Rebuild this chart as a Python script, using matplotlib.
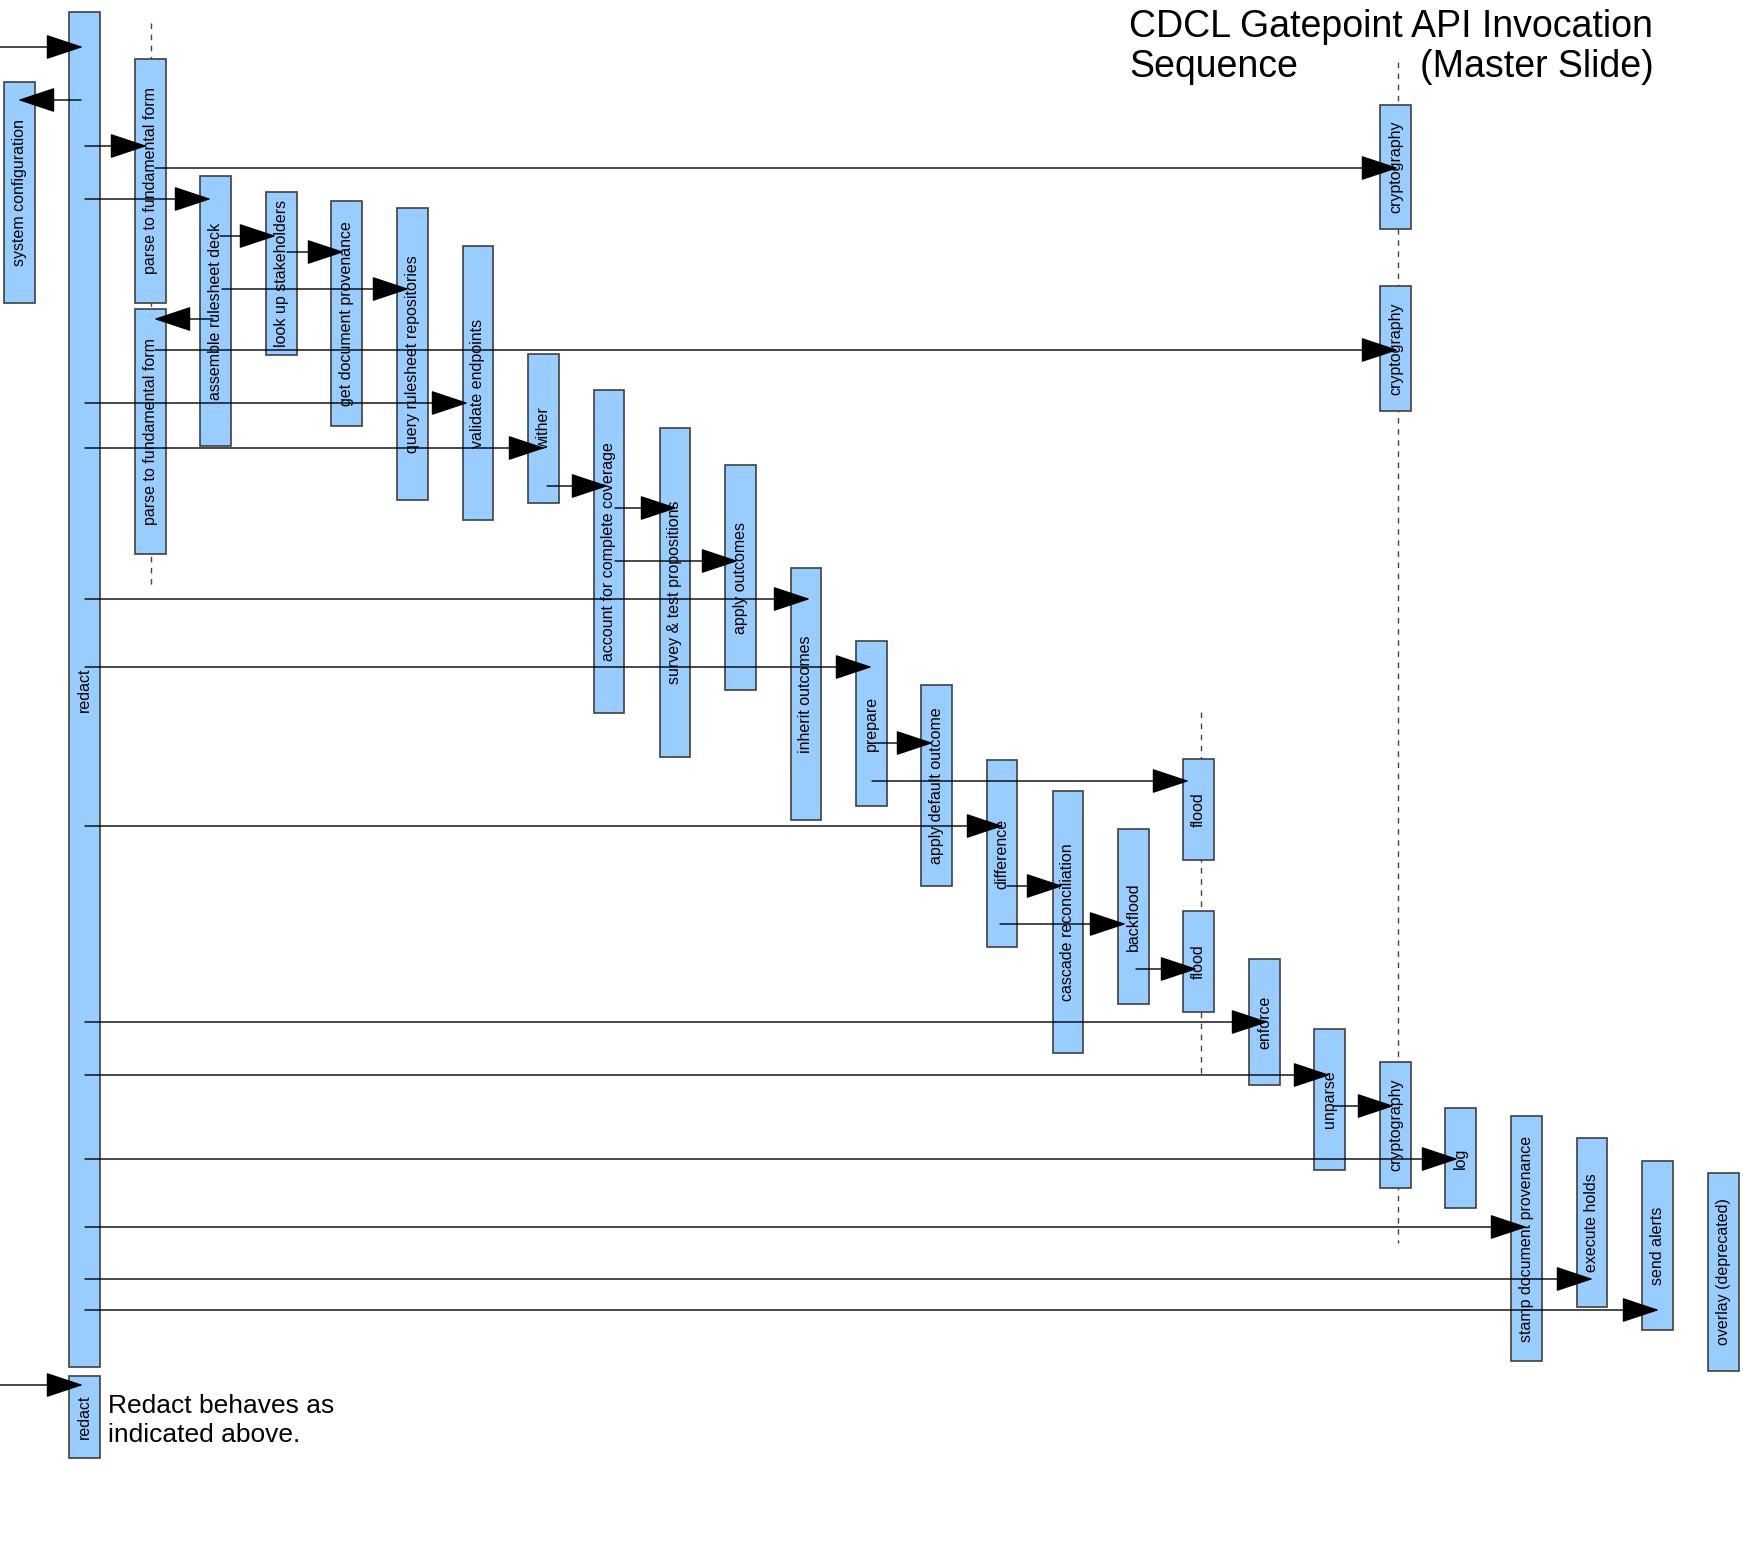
import matplotlib.pyplot as plt
from matplotlib.patches import Rectangle

plt.rcParams['font.family'] = ['Liberation Sans', 'DejaVu Sans']

# activation boxes: label, left, right, top, bottom (pixel coords of the slide)
box_labels = ['redact', 'system configuration', 'parse to fundamental form', 'parse to fundamental form',
              'assemble rulesheet deck', 'look up stakeholders', 'get document provenance',
              'query rulesheet repositories', 'validate endpoints', 'wither', 'account for complete coverage',
              'survey & test propositions', 'apply outcomes', 'inherit outcomes', 'prepare',
              'apply default outcome', 'difference', 'cascade reconciliation', 'backflood', 'flood', 'flood',
              'enforce', 'unparse', 'cryptography', 'cryptography', 'cryptography', 'log',
              'stamp document provenance', 'execute holds', 'send alerts', 'overlay (deprecated)', 'redact']
box_left = [69, 4, 135, 135, 200, 266, 331, 397, 463, 528, 594, 660, 725, 791, 856, 921, 987, 1053, 1118,
            1183, 1183, 1249, 1314, 1380, 1380, 1380, 1445, 1511, 1577, 1642, 1708, 69]
box_right = [100, 35, 166, 166, 231, 297, 362, 428, 493, 559, 624, 690, 756, 821, 887, 952, 1017, 1083, 1149,
             1214, 1214, 1280, 1345, 1411, 1411, 1411, 1476, 1542, 1607, 1673, 1739, 100]
box_top = [12, 82, 59, 309, 176, 192, 201, 208, 246, 354, 390, 428, 465, 568, 641, 685, 760, 791, 829,
           759, 911, 959, 1029, 105, 286, 1062, 1108, 1116, 1138, 1161, 1173, 1376]
box_bottom = [1367, 303, 303, 554, 446, 355, 426, 500, 520, 503, 713, 757, 690, 820, 806, 886, 947, 1053, 1004,
              860, 1012, 1085, 1170, 229, 411, 1188, 1208, 1361, 1307, 1330, 1371, 1458]

# messages: start x, arrow tip x, y
msg_start = [0, 81, 85, 155, 85, 220, 287, 222, 213, 155, 85, 85, 547, 615, 615, 85, 85, 876, 872, 85,
             1007, 1000, 1136, 85, 85, 1333, 85, 85, 85, 85, 0]
msg_tip = [83, 18, 147, 1398, 211, 276, 344, 409, 154, 1398, 468, 545, 608, 677, 738, 810, 872, 933, 1189,
           1003, 1063, 1126, 1197, 1268, 1330, 1394, 1458, 1527, 1593, 1659, 83]
msg_y = [47, 100, 146, 168, 199, 236, 252, 289, 319, 350, 403, 448, 486, 508, 561, 599, 667, 743, 781, 826,
         886, 924, 969, 1022, 1075, 1106, 1159, 1227, 1279, 1310, 1385]

# dashed lifelines: x, top, bottom
life_x = [151, 1201, 1398]
life_top = [23, 712, 62]
life_bottom = [588, 1077, 1243]

title_1 = 'CDCL Gatepoint API Invocation'
title_2a = 'Sequence'
title_2b = '(Master Slide)'
note_lines = ['Redact behaves as', 'indicated above.']

W, H = 1743, 1551
fig = plt.figure(figsize=(W / 100, H / 100), dpi=100)
ax = fig.add_axes([0, 0, 1, 1])
ax.set_xlim(0, W)
ax.set_ylim(H, 0)
ax.axis('off')

for x, t, b in zip(life_x, life_top, life_bottom):
    ax.plot([x, x], [t, b], color='#444444', lw=1.0, ls=(0, (4, 4)), zorder=1)

for lab, l, r, t, b in zip(box_labels, box_left, box_right, box_top, box_bottom):
    ax.add_patch(Rectangle((l, t), r - l, b - t, facecolor='#99ccff', edgecolor='#404040', lw=1.2, zorder=2))
    ax.text((l + r) / 2, (t + b) / 2, lab, rotation=90, ha='center', va='center',
            fontsize=11.5, color='black', zorder=4)

for x0, x1, y in zip(msg_start, msg_tip, msg_y):
    ax.annotate('', xy=(x1, y), xytext=(x0, y),
                arrowprops=dict(arrowstyle='-|>,head_length=24,head_width=8', mutation_scale=1,
                                shrinkA=0, shrinkB=0, color='black', lw=1.0), zorder=3)

ax.text(1129, 37, title_1, fontsize=27, va='baseline', ha='left')
ax.text(1129, 77, title_2a, fontsize=27, va='baseline', ha='left')
ax.text(1420, 77, title_2b, fontsize=27, va='baseline', ha='left')

ax.text(108, 1413, note_lines[0], fontsize=19, va='baseline', ha='left')
ax.text(108, 1442, note_lines[1], fontsize=19, va='baseline', ha='left')

fig.savefig('out.png', dpi=100, facecolor='white')
